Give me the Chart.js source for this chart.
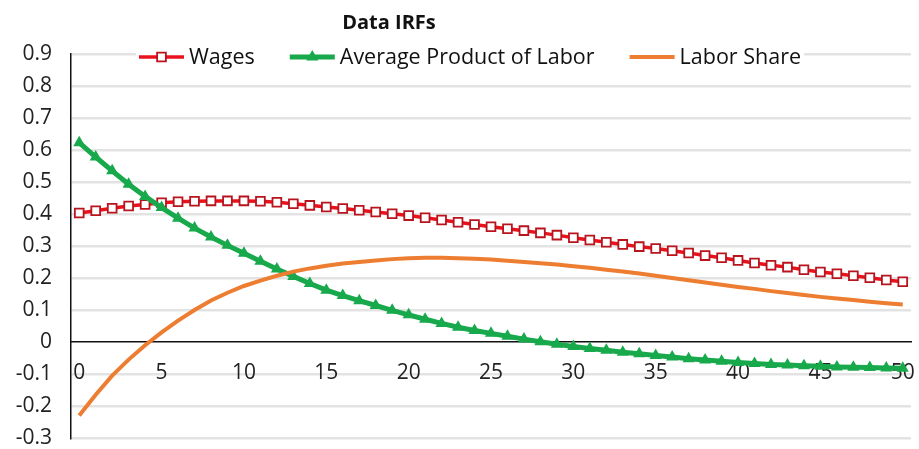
<!DOCTYPE html>
<html>
<head>
<meta charset="utf-8">
<script src="https://cdn.jsdelivr.net/npm/chart.js@4.4.0/dist/chart.umd.min.js"></script>
<style>
  html, body { margin: 0; padding: 0; background: #fff; }
  #wrap { position: relative; width: 919px; height: 449px; }
  #title { position: absolute; top: 12px; left: 389px; transform: translateX(-50%);
           font: bold 20px "Open Sans"; line-height: 1; color: #111; white-space: nowrap; }
</style>
</head>
<body>
<div id="wrap">
  <canvas id="myChart" width="919" height="449"></canvas>
  <div id="title">Data IRFs</div>
</div>
<script>
// periods 0..50
var periods = [];
for (var p = 0; p <= 50; p++) periods.push(String(p));

var wages = [0.403, 0.41, 0.418, 0.425, 0.43, 0.435, 0.438, 0.44, 0.441, 0.441,
             0.441, 0.44, 0.437, 0.432, 0.427, 0.422, 0.417, 0.412, 0.406, 0.401,
             0.395, 0.388, 0.381, 0.374, 0.367, 0.36, 0.354, 0.348, 0.341, 0.334,
             0.326, 0.319, 0.312, 0.305, 0.298, 0.292, 0.285, 0.278, 0.27, 0.263,
             0.255, 0.247, 0.24, 0.234, 0.226, 0.219, 0.213, 0.207, 0.201, 0.194, 0.188];

var avgProduct = [0.623, 0.578, 0.535, 0.493, 0.455, 0.42, 0.387, 0.356, 0.328, 0.302,
                  0.277, 0.252, 0.228, 0.205, 0.183, 0.162, 0.145, 0.129, 0.114, 0.099,
                  0.085, 0.071, 0.058, 0.046, 0.036, 0.027, 0.018, 0.009, 0.001, -0.007,
                  -0.014, -0.02, -0.026, -0.032, -0.037, -0.042, -0.047, -0.052, -0.056, -0.06,
                  -0.064, -0.067, -0.07, -0.072, -0.074, -0.076, -0.078, -0.079, -0.08, -0.081, -0.082];

var laborShare = [-0.23, -0.165, -0.105, -0.055, -0.01, 0.03, 0.067, 0.1, 0.13, 0.154,
                  0.175, 0.192, 0.207, 0.22, 0.23, 0.238, 0.245, 0.25, 0.255, 0.259,
                  0.262, 0.263, 0.263, 0.262, 0.26, 0.258, 0.254, 0.25, 0.246, 0.242,
                  0.237, 0.232, 0.226, 0.22, 0.214, 0.207, 0.2, 0.193, 0.186, 0.179,
                  0.172, 0.166, 0.159, 0.153, 0.147, 0.141, 0.136, 0.131, 0.126, 0.121, 0.117];

var yMin = -0.3, yMax = 0.9, yStep = 0.1;

// legend drawn on top of the plot, like the excel one
var topLegend = {
  id: 'topLegend',
  afterDraw: function(chart) {
    var ctx = chart.ctx;
    var sets = chart.data.datasets;
    var lineLen = 45, gap = 5, itemGap = 35, cy = 57;
    ctx.save();
    ctx.font = '21.5px "Open Sans"';
    var total = 0;
    sets.forEach(function(ds, i) {
      total += lineLen + gap + ctx.measureText(ds.label).width;
      if (i) total += itemGap;
    });
    var x = 470 - total / 2;
    ctx.fillStyle = '#fff';
    ctx.fillRect(x - 3, cy - 13, total + 6, 26);
    sets.forEach(function(ds) {
      ctx.strokeStyle = ds.borderColor;
      ctx.lineWidth = ds.borderWidth;
      ctx.beginPath();
      ctx.moveTo(x, cy);
      ctx.lineTo(x + lineLen, cy);
      ctx.stroke();
      var mx = x + lineLen / 2, r = ds.pointRadius;
      if (r > 0) {
        ctx.fillStyle = ds.pointBackgroundColor;
        ctx.strokeStyle = ds.pointBorderColor;
        ctx.lineWidth = ds.pointBorderWidth;
        ctx.beginPath();
        if (ds.pointStyle === 'rect') {
          var s = r * Math.SQRT1_2;
          ctx.rect(mx - s, cy - s, 2 * s, 2 * s);
        } else {
          ctx.moveTo(mx, cy - r);
          ctx.lineTo(mx + r * 0.866, cy + r * 0.5);
          ctx.lineTo(mx - r * 0.866, cy + r * 0.5);
          ctx.closePath();
        }
        ctx.fill();
        if (ds.pointBorderWidth > 0) ctx.stroke();
      }
      ctx.fillStyle = '#111';
      ctx.textBaseline = 'middle';
      ctx.textAlign = 'left';
      ctx.fillText(ds.label, x + lineLen + gap, cy + 1);
      x += lineLen + gap + ctx.measureText(ds.label).width + itemGap;
    });
    ctx.restore();
  }
};

Chart.defaults.font.family = '"Open Sans"';
Chart.defaults.color = '#222';

var chart = new Chart("myChart", {
  type: "line",
  data: {
    labels: periods,
    datasets: [{
      label: "Wages",
      data: wages,
      borderColor: '#e8121c',
      borderWidth: 3.5,
      pointStyle: 'rect',
      pointRadius: 6.2,
      pointBackgroundColor: '#fff',
      pointBorderColor: '#b8141e',
      pointBorderWidth: 1.8,
      order: 3
    }, {
      label: "Average Product of Labor",
      data: avgProduct,
      borderColor: '#17a94b',
      borderWidth: 5,
      pointStyle: 'triangle',
      pointRadius: 7,
      pointBackgroundColor: '#17a94b',
      pointBorderColor: '#17a94b',
      pointBorderWidth: 0,
      order: 2
    }, {
      label: "Labor Share",
      data: laborShare,
      borderColor: '#ed7d31',
      borderWidth: 4,
      pointRadius: 0,
      order: 1
    }]
  },
  options: {
    responsive: false,
    animation: false,
    layout: { padding: { left: 0, right: 6, top: 54, bottom: 11 } },
    plugins: {
      legend: { display: false },
      tooltip: { enabled: false }
    },
    scales: {
      x: {
        type: 'category',
        offset: true,
        position: { y: 0 },
        grid: { display: false },
        border: { display: true, color: '#111', width: 1.5 },
        ticks: {
          autoSkip: false,
          maxRotation: 0,
          padding: 10,
          font: { size: 21 },
          color: '#222',
          callback: function(v, i) { return i % 5 === 0 ? periods[i] : null; }
        },
        afterFit: function(scale) {
          scale.height = 0;
          scale.paddingLeft = 0;
          scale.paddingRight = 0;
        }
      },
      y: {
        min: yMin,
        max: yMax,
        grid: {
          color: function(c) { return Math.abs(c.tick.value) < 1e-9 ? 'rgba(0,0,0,0)' : '#e3e3e3'; },
          lineWidth: 2.5,
          drawTicks: false
        },
        border: { display: true, color: '#111', width: 1.5 },
        ticks: {
          stepSize: yStep,
          padding: 19,
          font: { size: 21 },
          color: '#222',
          callback: function(v) { return String(Math.round(v * 10) / 10); }
        },
        afterFit: function(scale) {
          scale.width = 71;
          scale.paddingTop = 0;
          scale.paddingBottom = 0;
        }
      }
    }
  },
  plugins: [topLegend]
});
</script>
</body>
</html>
